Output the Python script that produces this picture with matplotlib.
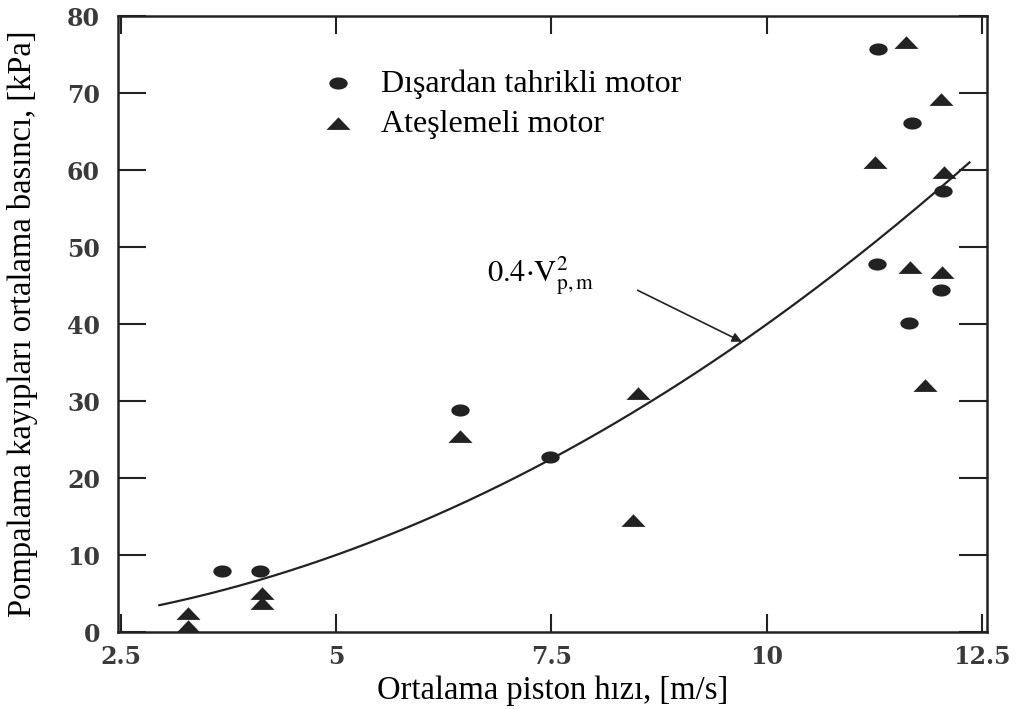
import numpy as np
import matplotlib.pyplot as plt
from matplotlib.path import Path

plt.rcParams['mathtext.fontset'] = 'stix'

# Dışardan tahrikli motor (motored engine)
motored_v = [3.68, 4.12, 6.44, 7.48, 11.29, 11.68, 12.04, 11.28, 11.65, 12.02]
motored_p = [7.9, 7.9, 28.8, 22.7, 75.7, 66.1, 57.3, 47.8, 40.1, 44.5]

# Ateşlemeli motor (fired engine)
fired_v = [3.28, 3.28, 4.14, 4.14, 6.44, 8.50, 8.45, 11.61, 12.02, 11.26, 12.05,
           11.66, 12.03, 11.84]
fired_p = [2.3, 0.6, 4.9, 3.6, 25.3, 30.9, 14.4, 76.5, 69.1, 60.9, 59.6,
           47.3, 46.6, 31.9]

coef = 0.4
v_start, v_end = 2.95, 12.35
arrow_v = 9.71

x_ticks = [2.5, 5, 7.5, 10, 12.5]
x_ticklabels = ["2.5", "5", "7.5", "10", "12.5"]
y_ticks = [0, 10, 20, 30, 40, 50, 60, 70, 80]

ink = '#222222'

# flattened markers like the printed ones
t = np.linspace(0, 2 * np.pi, 40)
ellipse = Path(np.column_stack([np.cos(t), 0.66 * np.sin(t)]))
tri = Path([(-1, -0.45), (1, -0.45), (0, 0.6), (-1, -0.45)],
           [Path.MOVETO, Path.LINETO, Path.LINETO, Path.CLOSEPOLY])

fig = plt.figure(figsize=(10.31, 7.09), dpi=100)
ax = fig.add_axes([0.1145, 0.1086, 0.8425, 0.8684])

v = np.linspace(v_start, v_end, 200)
ax.plot(v, coef * v ** 2, color=ink, lw=1.6)

ax.scatter(motored_v, motored_p, marker=ellipse, s=175, color=ink, lw=0,
           label="Dışardan tahrikli motor")
ax.scatter(fired_v, fired_p, marker=tri, s=300, color=ink, lw=0,
           label="Ateşlemeli motor")

ax.text(6.75, 45.5, r'$0.4{\cdot}\mathrm{V}_{\mathrm{p,m}}^{2}$', fontsize=22,
        color='black')
ax.annotate('', xy=(arrow_v, coef * arrow_v ** 2), xytext=(8.5, 44.4),
            arrowprops=dict(arrowstyle='-|>', color=ink, lw=1.2,
                            mutation_scale=14, shrinkA=0, shrinkB=0))

ax.set_xlim(2.471, 12.55)
ax.set_ylim(0, 80)
ax.set_xticks(x_ticks)
ax.set_xticklabels(x_ticklabels)
ax.set_yticks(y_ticks)

ax.tick_params(axis='y', direction='in', length=20, width=1.5, color=ink,
               right=True, pad=13, labelsize=17, labelcolor='#3a3a3a')
ax.tick_params(axis='x', direction='in', length=13, width=1.5, color=ink,
               top=True, pad=9, labelsize=17, labelcolor='#3a3a3a')
for lab in ax.get_xticklabels() + ax.get_yticklabels():
    lab.set_fontfamily('DejaVu Serif')
    lab.set_fontweight('bold')
for sp in ax.spines.values():
    sp.set_linewidth(1.8)
    sp.set_color(ink)

ax.set_xlabel("Ortalama piston hızı, [m/s]", family='Liberation Serif',
              fontsize=23.5, labelpad=5)
ax.set_ylabel("Pompalama kayıpları ortalama basıncı, [kPa]",
              family='Liberation Serif', fontsize=23.5)
ax.yaxis.set_label_coords(-0.092, 0.5)

ax.legend(loc='upper left', bbox_to_anchor=(0.235, 0.914), frameon=False,
          prop={'family': 'Liberation Serif', 'size': 23}, handletextpad=0.85,
          labelspacing=0.34, handlelength=1.0, borderaxespad=0, borderpad=0)

fig.savefig('out.png', dpi=100)
